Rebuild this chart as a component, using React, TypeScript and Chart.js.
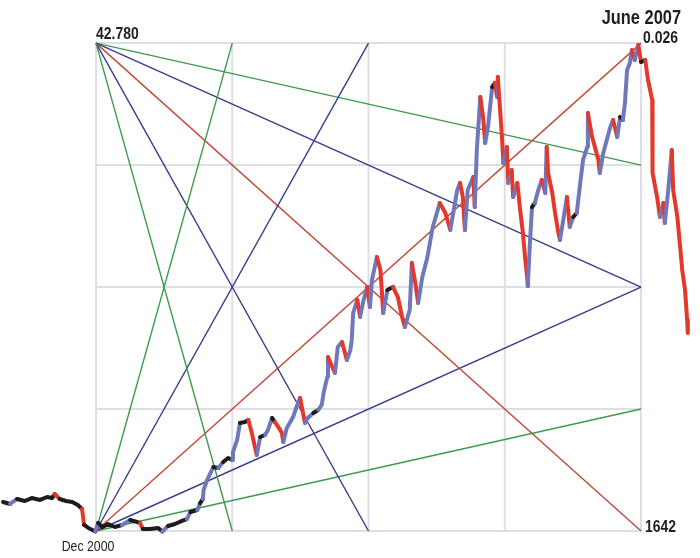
import React, { useEffect, useRef } from "react";
import { Chart, registerables } from "chart.js";

Chart.register(...registerables);

// Months since Dec 2000 (negative = before Dec 2000)
const MONTHS = [
  -13.3, -12.3, -11.3, -10.2, -9.2, -8.0, -7.0, -6.3, -5.9, -5.2, -4.3, -3.4, -2.6, -2.0, -1.7, -1.1, -0.1,
  0.3, 0.9, 1.7, 2.7, 3.7, 4.9, 6.3, 6.7, 7.7, 8.9, 9.5, 10.3, 11.3, 12.3, 13.0,
  13.5, 14.5, 14.9, 15.3, 15.4, 15.9, 16.8, 17.5, 18.2, 18.9, 19.5, 19.6, 20.2, 20.6, 21.3, 21.8,
  22.3, 23.0, 23.5, 24.2, 24.6, 25.2, 25.6, 26.1, 26.6, 26.8, 27.3, 27.8, 28.2, 28.8, 29.2,
  29.9, 30.3, 31.1, 31.8, 32.3, 32.6, 33.1, 33.2, 33.8, 34.2, 34.6, 35.2, 35.9, 36.4, 36.6,
  36.8, 37.4, 37.8, 38.2, 38.8, 39.2, 39.5, 40.2, 40.7, 40.9, 41.1, 41.7, 42.5, 43.2, 43.8,
  44.2, 44.9, 45.2, 45.7, 46.1, 46.7, 47.4, 48.2, 49.2, 50.0, 50.7, 51.7, 52.1, 52.5, 52.8,
  53.2, 54.0, 54.2, 54.5, 55.0, 55.4, 55.7, 56.1, 56.7, 57.1, 57.4, 57.5, 57.8, 58.1, 58.3,
  58.8, 59.0, 59.5, 59.7, 60.3, 60.7, 61.1, 61.4, 61.7, 61.8, 62.1, 62.4, 62.8, 63.3, 63.8,
  64.3, 64.5, 64.7, 65.3, 65.7, 66.1, 66.4, 66.8, 67.4, 67.8, 68.3, 68.8, 69.3, 69.7, 70.3,
  70.4, 71.0, 71.4, 71.9, 72.1, 72.6, 73.1, 73.6, 74.0, 74.6, 75.0, 75.4, 75.7, 76.0, 76.4,
  76.7, 77.1, 77.6, 78.0, 78.6, 79.0, 79.6, 79.6, 79.7, 80.3, 80.7, 81.2, 81.4, 81.9, 82.4,
  82.6, 83.2, 83.6, 83.9, 84.3, 84.6, 84.7,
];

// Index level at each point
const PRICES = [
  4090, 3920, 4340, 4170, 4420, 4260, 4510, 4420, 4760, 4340, 4170, 4090, 3830, 3500, 2150, 1900, 1600,
  2320, 1980, 2230, 1980, 2150, 2570, 2320, 1810, 1810, 1900, 1600, 2060, 2230, 2490, 2650,
  3240, 3410, 4000, 4340, 5100, 5940, 7040, 6950, 7460, 7800, 7630, 8300, 9320, 10750, 10830, 11000,
  9910, 8050, 9570, 9740, 10160, 11170, 10830, 10410, 9910, 9150, 10330, 10830, 11250, 12270, 12860,
  10750, 11170, 11590, 11850, 12270, 13360, 14630, 16310, 15470, 14970, 17160, 17580, 16060, 16900, 17750,
  20020, 21120, 19690, 20870, 22220, 20530, 22810, 24750, 23650, 21960, 20020, 21960, 22220, 21370, 19690,
  18840, 20280, 24240, 22550, 20870, 23060, 24660, 27280, 29300, 28460, 27020, 30400, 30990, 29800, 27020,
  30400, 31490, 28960, 33770, 38240, 36550, 34360, 35710, 39080, 39420, 38240, 39920, 37390, 34860, 32670,
  34020, 30990, 32080, 29800, 30990, 28710, 26770, 24750, 23060, 22300, 25930, 28960, 29300, 30400, 31240,
  30140, 34020, 31830, 30140, 28460, 27020, 26180, 27610, 29800, 27280, 28120, 28460, 30990, 32930, 34020,
  36890, 34860, 34020, 32930, 31830, 33520, 34610, 35710, 36300, 34860, 36550, 36300, 37730, 40510, 41100,
  42200, 41360, 42620, 41190, 41360, 39670, 37980, 34610, 31830, 29800, 28120, 29300, 27610, 30400, 33770,
  30400, 28120, 25590, 23650, 21960, 19430, 18340,
];

// Gann grid: four equal steps between Dec 2000 / June 2007 and low 1642 / high 42780
const GRID_MONTHS = [0, 19.5, 39, 58.5, 78];
const GRID_PRICES = [1642, 11926.5, 22211, 32495.5, 42780];

// Fan from the high (top-left corner) and from the low (bottom-left corner)
const FAN_COLORS = ["#3f9a4c", "#3b3b8e", "#c4493a", "#3b3b8e", "#3f9a4c"];
const TOP_FAN_END_MONTHS = [19.5, 39, 78, 78, 78];
const TOP_FAN_END_PRICES = [1642, 1642, 1642, 22211, 32495.5];
const BOTTOM_FAN_END_MONTHS = [19.5, 39, 78, 78, 78];
const BOTTOM_FAN_END_PRICES = [42780, 42780, 42780, 22211, 11926.5];

const LABEL_HIGH = "42.780";
const LABEL_LOW = "1642";
const LABEL_START = "Dec 2000";
const LABEL_END = "June 2007";
const LABEL_RATIO = "0.026";

const FONT = "'Liberation Sans', Arial, sans-serif";
const NARROW_SCALE = 0.82;

export default function App() {
  const ref = useRef<HTMLCanvasElement | null>(null);

  useEffect(() => {
    if (!ref.current) return;
    const startM = GRID_MONTHS[0];
    const endM = GRID_MONTHS[GRID_MONTHS.length - 1];
    const lowP = GRID_PRICES[0];
    const highP = GRID_PRICES[GRID_PRICES.length - 1];

    const gridData: any[] = [];
    GRID_MONTHS.forEach((m) => {
      gridData.push({ x: m, y: lowP }, { x: m, y: highP }, { x: m, y: null });
    });
    GRID_PRICES.forEach((p) => {
      gridData.push({ x: startM, y: p }, { x: endM, y: p }, { x: endM, y: null });
    });

    const fanSets: any[] = [];
    FAN_COLORS.forEach((c, i) => {
      fanSets.push({
        type: "line",
        data: [
          { x: startM, y: highP },
          { x: TOP_FAN_END_MONTHS[i], y: TOP_FAN_END_PRICES[i] },
        ],
        borderColor: c,
        borderWidth: 1.4,
        pointRadius: 0,
        order: 1,
      });
      fanSets.push({
        type: "line",
        data: [
          { x: startM, y: lowP },
          { x: BOTTOM_FAN_END_MONTHS[i], y: BOTTOM_FAN_END_PRICES[i] },
        ],
        borderColor: c,
        borderWidth: 1.4,
        pointRadius: 0,
        order: 1,
      });
    });

    const priceData = MONTHS.map((m, i) => ({ x: m, y: PRICES[i] }));

    const drawText = (c: CanvasRenderingContext2D, text: string, x: number, y: number, font: string, align: CanvasTextAlign) => {
      c.save();
      c.translate(x, y);
      c.scale(NARROW_SCALE, 1);
      c.font = font;
      c.textAlign = align;
      c.textBaseline = "alphabetic";
      c.fillText(text, 0, 0);
      c.restore();
    };

    const labels = {
      id: "gannLabels",
      afterDatasetsDraw(chart: any) {
        const c = chart.ctx as CanvasRenderingContext2D;
        const xs = chart.scales.x;
        const ys = chart.scales.y;
        const x0 = xs.getPixelForValue(startM);
        const x1 = xs.getPixelForValue(endM);
        const yT = ys.getPixelForValue(highP);
        const yB = ys.getPixelForValue(lowP);
        c.save();
        c.fillStyle = "#1e1e1e";
        drawText(c, LABEL_HIGH, x0, yT - 4, `bold 17px ${FONT}`, "left");
        drawText(c, LABEL_LOW, x1 + 4, yB + 1, `bold 17px ${FONT}`, "left");
        drawText(c, LABEL_RATIO, x1 + 2, yT, `bold 17px ${FONT}`, "left");
        drawText(c, LABEL_END, x1 + 40, yT - 19, `bold 20px ${FONT}`, "right");
        drawText(c, LABEL_START, x0 - 8, yB + 20, `15px ${FONT}`, "center");
        c.restore();
      },
    };

    const chart = new Chart(ref.current, {
      type: "line",
      data: {
        datasets: [
          {
            data: priceData,
            borderWidth: 4,
            borderCapStyle: "round",
            borderJoinStyle: "round",
            pointRadius: 0,
            order: 0,
            borderColor: "#7078bc",
            segment: {
              borderColor: (ctx: any) => {
                const d = ctx.p1.parsed.y - ctx.p0.parsed.y;
                if (Math.abs(d) < 350) return "#1c1c1c";
                return d > 0 ? "#7078bc" : "#e2392c";
              },
            },
          } as any,
          ...fanSets,
          {
            data: gridData,
            borderColor: "#dedee6",
            borderWidth: 2,
            pointRadius: 0,
            spanGaps: false,
            order: 2,
          },
        ],
      },
      options: {
        animation: false,
        responsive: false,
        maintainAspectRatio: false,
        layout: { padding: 0 },
        plugins: { legend: { display: false }, tooltip: { enabled: false } },
        elements: { line: { tension: 0 } },
        scales: {
          x: { type: "linear", min: -13.74, max: 86.44, display: false },
          y: { type: "linear", min: -635, max: 46416, display: false },
        },
      },
      plugins: [labels],
    } as any);
    return () => chart.destroy();
  }, []);

  return (
    <div style={{ position: "absolute", left: 0, top: 0, width: 700, height: 558, background: "#fff" }}>
      <canvas ref={ref} width={700} height={558} style={{ width: 700, height: 558, display: "block" }} />
    </div>
  );
}
